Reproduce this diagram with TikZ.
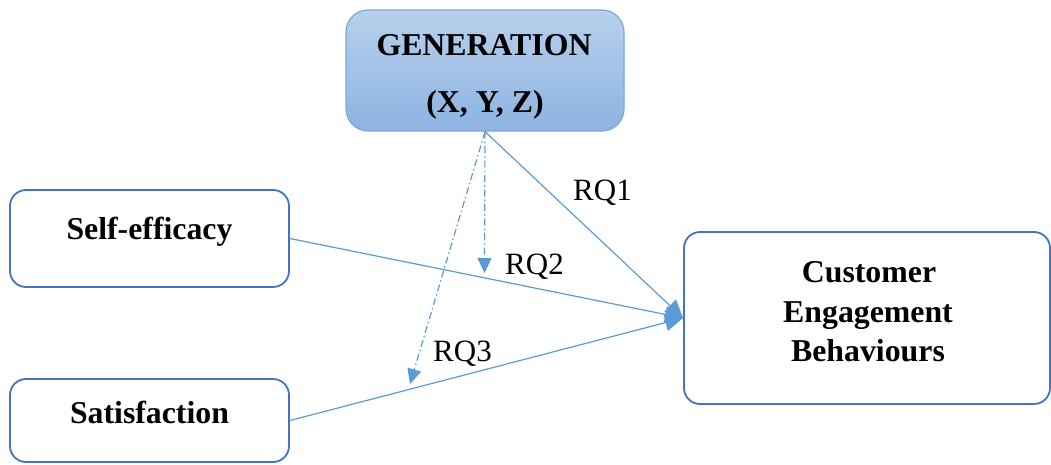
\documentclass[tikz,border=0pt]{standalone}
\usepackage{fontspec}
\setmainfont{Liberation Serif}
\usetikzlibrary{arrows.meta}
\definecolor{arrowblue}{HTML}{5B9BD5}
\definecolor{boxblue}{HTML}{4472C4}
\definecolor{gentop}{HTML}{B8D0EC}
\definecolor{genbot}{HTML}{8DB3E2}
\definecolor{genline}{HTML}{7EA8DA}
\begin{document}
\begin{tikzpicture}[x=1pt,y=-1pt,
  box/.style={draw=boxblue, line width=1.8pt, rounded corners=16pt, inner sep=0pt},
  genbox/.style={draw=genline, line width=1.2pt, rounded corners=22pt, inner sep=0pt, top color=gentop, bottom color=genbot},
  bold/.style={font=\fontsize{31.8}{39}\selectfont\bfseries, anchor=base, inner sep=0pt},
  rq/.style={font=\fontsize{31}{36}\selectfont, anchor=base west, inner sep=0pt},
  link/.style={draw=arrowblue, line width=1.2pt},
  mainhead/.style={-{Triangle[length=18pt,width=17pt]}},
  dashhead/.style={-{Triangle[length=15pt,width=14pt]}},
  dashdot/.style={dash pattern=on 7pt off 3pt on 1.5pt off 3pt}
]
\useasboundingbox (0,0) rectangle (1051,464);
\node[genbox, minimum width=278pt, minimum height=121pt] (gen) at (485,70.5) {};
\node[bold] (gent1) at (484,55) {GENERATION};
\node[bold] (gent2) at (485,112) {(X, Y, Z)};
\node[box, minimum width=279pt, minimum height=97pt] (se) at (149.5,238.5) {};
\node[bold] (set) at (149.5,239) {Self-efficacy};
\node[box, minimum width=279pt, minimum height=83pt] (sa) at (149.5,420.5) {};
\node[bold] (sat) at (149.5,423) {Satisfaction};
\node[box, minimum width=366pt, minimum height=172pt] (ceb) at (867,318) {};
\node[bold] (ceb1) at (869,282) {Customer};
\node[bold] (ceb2) at (868,322) {Engagement};
\node[bold] (ceb3) at (868,361) {Behaviours};
\coordinate (rq2end) at (484.5,273);
\coordinate (rq3end) at (410,384);
\draw[link, mainhead] (gen.south) -- (ceb.west);
\draw[link, mainhead] (se.east) -- (ceb.west);
\draw[link, mainhead] (sa.east) -- (ceb.west);
\draw[link, dashdot, dashhead] (gen.south) -- (rq2end);
\draw[link, dashdot, dashhead] (gen.south) -- (rq3end);
\node[rq] (rq1) at (573,200) {RQ1};
\node[rq] (rq2) at (505,274) {RQ2};
\node[rq] (rq3) at (433,361) {RQ3};
\end{tikzpicture}
\end{document}
